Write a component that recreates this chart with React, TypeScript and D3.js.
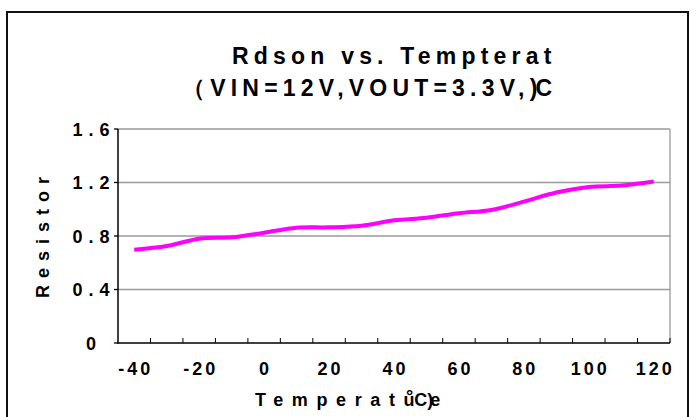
import React from "react";
import * as d3 from "d3";

const temps = [-40, -30, -20, -10, 0, 10, 20, 30, 40, 50, 60, 70, 80, 90, 100, 110, 120];
const rdson = [0.698, 0.725, 0.78, 0.79, 0.825, 0.862, 0.865, 0.877, 0.917, 0.937, 0.97, 0.995, 1.057, 1.125, 1.167, 1.177, 1.207];
const yTicks = [0, 0.4, 0.8, 1.2, 1.6];
const yTickLabels = ["0", "0.4", "0.8", "1.2", "1.6"];
const xLabelTemps = [-40, -20, 0, 20, 40, 60, 80, 100, 120];
const titleLine1 = "Rdson vs. Tempterat";
const titleLine2 = "（VIN=12V,VOUT=3.3V,";
const yTitle = "Resistor";

const W = 697, H = 417;
const L = 118, R = 670, T = 129, B = 343;
const font = "'Liberation Sans', Arial, sans-serif";

export default function App() {
  const x = d3.scaleBand<string>().domain(temps.map(String)).range([L, R]).padding(0);
  const y = d3.scaleLinear().domain([0, 1.6]).range([B, T]);
  const cx = (t: number) => (x(String(t)) as number) + x.bandwidth() / 2;
  const line = d3
    .line<number>()
    .x((_, i) => cx(temps[i]))
    .y((d) => y(d))
    .curve(d3.curveCatmullRom.alpha(0.5));
  const tickEdges = temps.map((t) => (x(String(t)) as number) + x.bandwidth());

  return (
    <svg width={W} height={H} style={{ position: "absolute", left: 0, top: 0, background: "#fff" }}>
      <rect x={7} y={12} width={681} height={430} fill="#fff" stroke="#111" strokeWidth={2} />
      {/* gridlines */}
      {yTicks.slice(1).map((v) => (
        <line key={v} x1={L} x2={R} y1={y(v)} y2={y(v)} stroke="#9a9a9a" strokeWidth={1.3} />
      ))}
      <line x1={R} x2={R} y1={T} y2={B} stroke="#9a9a9a" strokeWidth={1.3} />
      {/* axes */}
      <line x1={L} x2={L} y1={T} y2={B + 0.75} stroke="#000" strokeWidth={1.5} />
      <line x1={L} x2={R} y1={B} y2={B} stroke="#000" strokeWidth={1.5} />
      {yTicks.map((v) => (
        <line key={v} x1={L - 4} x2={L} y1={y(v)} y2={y(v)} stroke="#000" strokeWidth={1.3} />
      ))}
      {tickEdges.map((e, i) => (
        <line key={i} x1={e} x2={e} y1={B - 5} y2={B} stroke="#000" strokeWidth={1} />
      ))}
      {/* y labels */}
      {yTicks.map((v, i) => (
        <text
          key={v}
          x={91 + 3}
          y={y(v) + 6.5}
          textAnchor="middle"
          fontFamily={font}
          fontWeight="bold"
          fontSize={18}
          letterSpacing={6}
          fill="#000"
        >
          {yTickLabels[i]}
        </text>
      ))}
      {/* x labels */}
      {xLabelTemps.map((t) => (
        <text
          key={t}
          x={cx(t) + 1.5}
          y={375}
          textAnchor="middle"
          fontFamily={font}
          fontWeight="bold"
          fontSize={18}
          letterSpacing={3}
          fill="#000"
        >
          {String(t)}
        </text>
      ))}
      {/* data line */}
      <path d={line(rdson) || ""} fill="none" stroke="#ff00ff" strokeWidth={4} />
      {/* titles */}
      <text x={232} y={64} fontFamily={font} fontWeight="bold" fontSize={23} letterSpacing={5.2} fill="#000">
        {titleLine1}
      </text>
      <text x={182} y={96} fontFamily={font} fontWeight="bold" fontSize={23} letterSpacing={5.2} fill="#000">
        {titleLine2}
        <tspan letterSpacing={0}>)</tspan>
        <tspan dx={-2} letterSpacing={0}>C</tspan>
      </text>
      {/* y title */}
      <text
        transform={`translate(49,${234}) rotate(-90)`}
        textAnchor="middle"
        fontFamily={font}
        fontWeight="bold"
        fontSize={18}
        letterSpacing={7}
        fill="#000"
      >
        {yTitle}
      </text>
      {/* x title */}
      <text x={255} y={406} fontFamily={font} fontWeight="bold" fontSize={18} letterSpacing={8.6} fill="#000">
        Temperatu
        <tspan dx={-17} dy={-4} letterSpacing={0}>°</tspan>
        <tspan dx={1} dy={4} letterSpacing={0}>C)</tspan>
        <tspan dx={-3} letterSpacing={0}>e</tspan>
      </text>
    </svg>
  );
}
